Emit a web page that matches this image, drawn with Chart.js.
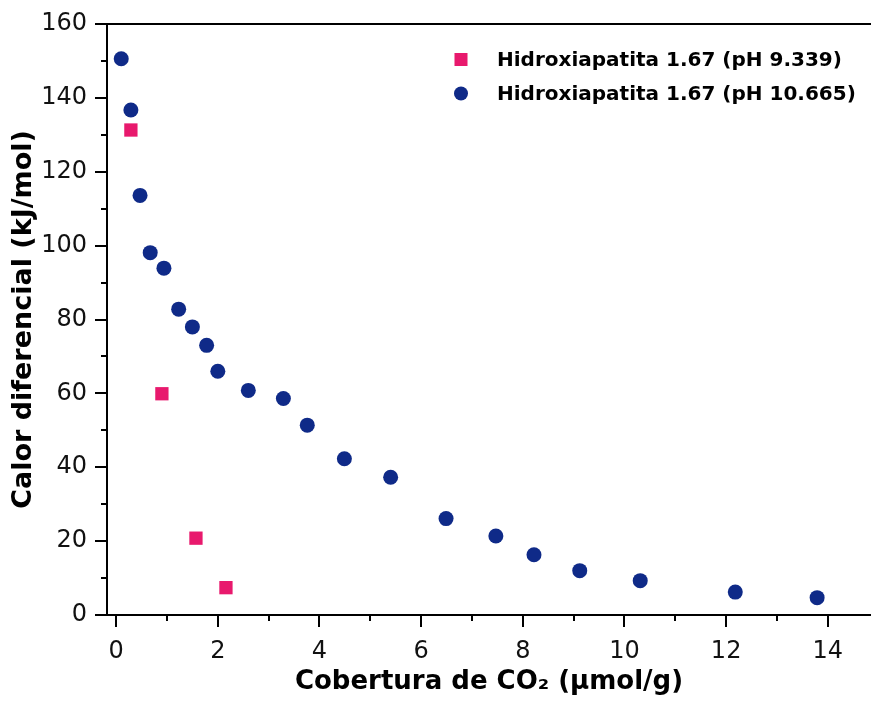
<!DOCTYPE html>
<html>
<head>
<meta charset="utf-8">
<script src="https://cdn.jsdelivr.net/npm/chart.js@4/dist/chart.umd.min.js"></script>
<style>
  html, body { margin: 0; padding: 0; background: #ffffff; }
  #wrap { width: 871px; height: 702px; }
</style>
</head>
<body>
<div id="wrap"><canvas id="c" width="871" height="702"></canvas></div>
<script>
// Differential heat of CO2 adsorption vs. coverage for two hydroxyapatite samples
const seriesLabels = ['Hidroxiapatita 1.67 (pH 9.339)', 'Hidroxiapatita 1.67 (pH 10.665)'];

const coverageA = [0.29, 0.90, 1.57, 2.16];
const heatA     = [131.3, 59.9, 20.8, 7.4];

const coverageB = [0.10, 0.29, 0.47, 0.67, 0.94, 1.23, 1.50, 1.78, 2.00, 2.60, 3.29,
                   3.76, 4.49, 5.40, 6.49, 7.47, 8.22, 9.12, 10.31, 12.18, 13.79];
const heatB     = [150.6, 136.7, 113.6, 98.1, 93.9, 82.8, 78.0, 73.0, 66.0, 60.8, 58.6,
                   51.4, 42.3, 37.3, 26.1, 21.4, 16.3, 12.0, 9.3, 6.2, 4.7];

const xTickValues = [0, 2, 4, 6, 8, 10, 12, 14];
const yTickValues = [0, 20, 40, 60, 80, 100, 120, 140, 160];

const PINK = '#e8196d';
const NAVY = '#0f2a88';
const FONT = "'DejaVu Sans', sans-serif";

const toPoints = (xs, ys) => xs.map((x, i) => ({ x, y: ys[i] }));

// Outward major/minor tick marks, top frame line and the in-plot legend
const decorations = {
  id: 'decorations',
  afterDraw(chart) {
    const { ctx, chartArea: a, scales: { x, y } } = chart;
    ctx.save();
    ctx.strokeStyle = '#000';
    ctx.lineWidth = 2;
    ctx.beginPath();
    for (let v = 0; v <= 14; v++) {
      const px = Math.round(x.getPixelForValue(v));
      const len = v % 2 === 0 ? 12 : 6;
      ctx.moveTo(px, a.bottom);
      ctx.lineTo(px, a.bottom + len);
    }
    for (let v = 0; v <= 160; v += 10) {
      const py = Math.round(y.getPixelForValue(v));
      const len = v % 20 === 0 ? 12 : 6;
      ctx.moveTo(a.left, py);
      ctx.lineTo(a.left - len, py);
    }
    ctx.moveTo(a.left, a.top);
    ctx.lineTo(a.right, a.top);
    ctx.stroke();

    // legend
    const ds = chart.data.datasets;
    const mx = 461, tx = 497;
    const rows = [59.5, 93.5];
    ctx.font = 'bold 20px ' + FONT;
    ctx.textAlign = 'left';
    ctx.textBaseline = 'middle';
    ds.forEach((d, i) => {
      const cy = rows[i];
      ctx.fillStyle = d.backgroundColor;
      if (d.pointStyle === 'rect') {
        ctx.fillRect(mx - 6.5, cy - 6.5, 13, 13);
      } else {
        ctx.beginPath();
        ctx.arc(mx, cy, 7, 0, Math.PI * 2);
        ctx.fill();
      }
      ctx.fillStyle = '#000';
      ctx.fillText(d.label, tx, cy + 1);
    });
    ctx.restore();
  }
};

new Chart(document.getElementById('c'), {
  type: 'scatter',
  data: {
    datasets: [
      {
        label: seriesLabels[0],
        data: toPoints(coverageA, heatA),
        pointStyle: 'rect',
        pointRadius: 9.4,
        pointHoverRadius: 9.4,
        borderWidth: 0,
        backgroundColor: PINK,
        borderColor: PINK
      },
      {
        label: seriesLabels[1],
        data: toPoints(coverageB, heatB),
        pointStyle: 'circle',
        pointRadius: 7.5,
        pointHoverRadius: 7.5,
        borderWidth: 0,
        backgroundColor: NAVY,
        borderColor: NAVY
      }
    ]
  },
  options: {
    responsive: false,
    animation: false,
    devicePixelRatio: 1,
    layout: { autoPadding: false, padding: { top: 24, right: 0, left: 0, bottom: 0 } },
    plugins: { legend: { display: false }, tooltip: { enabled: false } },
    scales: {
      x: {
        type: 'linear',
        min: -0.18,
        max: 14.85,
        afterBuildTicks: s => { s.ticks = xTickValues.map(v => ({ value: v })); },
        afterFit: s => { s.height = 87; s.paddingLeft = 0; s.paddingRight = 0; },
        grid: { display: false },
        border: { display: true, color: '#000', width: 2 },
        ticks: {
          padding: 14,
          maxRotation: 0,
          autoSkip: false,
          color: '#111',
          font: { family: FONT, size: 24 }
        },
        title: {
          display: true,
          text: 'Cobertura de CO\u2082 (\u00B5mol/g)',
          color: '#000',
          font: { family: FONT, size: 26, weight: 'bold' },
          padding: { top: 0, bottom: 4 }
        }
      },
      y: {
        type: 'linear',
        min: 0,
        max: 160,
        afterBuildTicks: s => { s.ticks = yTickValues.map(v => ({ value: v })); },
        afterFit: s => { s.width = 107; s.paddingTop = 0; s.paddingBottom = 0; },
        grid: { display: false },
        border: { display: true, color: '#000', width: 2 },
        ticks: {
          padding: 12,
          color: '#111',
          font: { family: FONT, size: 24 }
        },
        title: {
          display: true,
          text: 'Calor diferencial (kJ/mol)',
          color: '#000',
          font: { family: FONT, size: 27, weight: 'bold' },
          padding: { top: 8, bottom: 0 }
        }
      }
    }
  },
  plugins: [decorations]
});
</script>
</body>
</html>
